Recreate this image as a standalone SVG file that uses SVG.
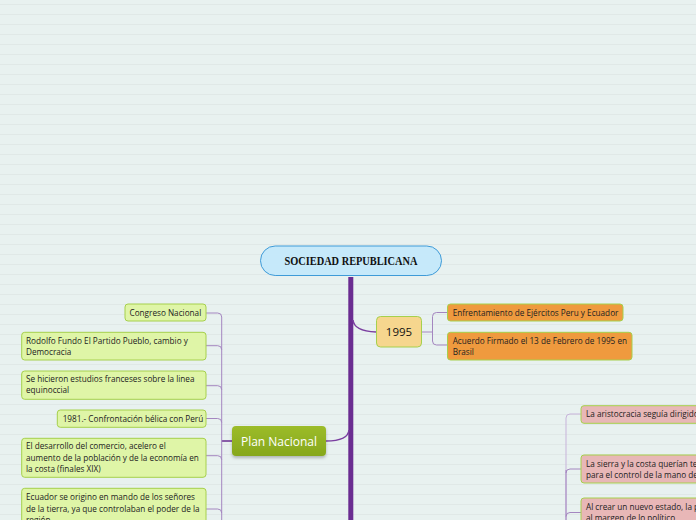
<svg xmlns="http://www.w3.org/2000/svg" width="696" height="520" viewBox="0 0 696 520">
<defs>
<pattern id="bgl" width="696" height="10" patternUnits="userSpaceOnUse">
<rect width="696" height="10" fill="#e8f1f0"/>
<line x1="0" y1="4.5" x2="696" y2="4.5" stroke="#e0e8e7" stroke-width="1"/>
</pattern>
<linearGradient id="pn" x1="0" y1="0" x2="0" y2="1">
<stop offset="0" stop-color="#9cbc2a"/>
<stop offset="1" stop-color="#86a71c"/>
</linearGradient>
<filter id="sh" x="-20%" y="-20%" width="140%" height="160%">
<feDropShadow dx="0" dy="2" stdDeviation="1.5" flood-color="#000" flood-opacity="0.25"/>
</filter>
</defs>
<style>
.t{font-family:"Open Sans","Noto Sans",sans-serif;font-size:8.2px;fill:#222}
.lg{fill:#dff5a7;stroke:#a6d04c;stroke-width:1}
.or{fill:#ef9a3e;stroke:#a6d04c;stroke-width:1}
.pk{fill:#e8b7b7;stroke:#a6d04c;stroke-width:1}
.thin{fill:none;stroke:#a486c0;stroke-width:1}
</style>
<rect width="696" height="520" fill="url(#bgl)"/>

<g id="connectors">
<rect x="348.3" y="277" width="5" height="245" fill="#6a2c91"/>
<path d="M353,320 Q354,331 376,332" fill="none" stroke="#7a3ea0" stroke-width="1.5"/>
<path d="M326,441 Q348,441 349,430" fill="none" stroke="#7a3ea0" stroke-width="1.5"/>
<path class="thin" d="M421.5,332 H432.5"/>
<path class="thin" d="M447.5,312.5 H436.5 Q432.5,312.5 432.5,316.5 V341 Q432.5,345 436.5,345 H447.5"/>
<path d="M232,441 H221.7" fill="none" stroke="#6a2c91" stroke-width="1.5"/>
<path class="thin" d="M206,313 H217.7 Q221.7,313 221.7,317 V522"/>
<path class="thin" d="M206,345.7 H217.7 Q221.7,345.7 221.7,349.7"/>
<path class="thin" d="M206,385.7 H217.7 Q221.7,385.7 221.7,389.7"/>
<path class="thin" d="M206,418.5 H217.7 Q221.7,418.5 221.7,422.5"/>
<path class="thin" d="M206,455.7 H217.7 Q221.7,455.7 221.7,459.7"/>
<path class="thin" d="M206,509 H217.7 Q221.7,509 221.7,513"/>
<path d="M581,414 H570 Q566,414 566,418 V522" fill="none" stroke="#c7b3da" stroke-width="1"/>
<path class="thin" d="M566,470 V522"/>
<path class="thin" d="M581,469 H570 Q566,469 566,473"/>
<path class="thin" d="M581,512.5 H570 Q566,512.5 566,516.5"/>
</g>

<g id="title">
<rect x="260.5" y="246" width="181" height="29.5" rx="14.7" fill="#c6e9fa" stroke="#3f9bd8" stroke-width="1"/>
<text x="351" y="264.5" text-anchor="middle" font-family="'Liberation Serif',serif" font-weight="bold" font-size="11.5" textLength="133" lengthAdjust="spacingAndGlyphs" fill="#111">SOCIEDAD REPUBLICANA</text>
</g>

<g id="n1995">
<rect x="376.5" y="316.5" width="45" height="30.5" rx="4" fill="#f6d68e" stroke="#a6d04c" stroke-width="1"/>
<text x="399" y="336" text-anchor="middle" font-family="'Open Sans','Noto Sans',sans-serif" font-size="11.5" fill="#111">1995</text>
</g>
<g id="enfrentamiento">
<rect class="or" x="447.5" y="304" width="175.5" height="17" rx="3"/>
<text class="t" x="452.7" y="315.5">Enfrentamiento de Ejércitos Peru y Ecuador</text>
</g>
<g id="acuerdo">
<rect class="or" x="447.5" y="332.3" width="184.5" height="27.7" rx="3"/>
<text class="t" x="452.7" y="343.5">Acuerdo Firmado el 13 de Febrero de 1995 en</text>
<text class="t" x="452.7" y="355.2">Brasil</text>
</g>

<g id="plan-nacional">
<rect x="232" y="426" width="94" height="30" rx="4" fill="url(#pn)" filter="url(#sh)"/>
<text x="279" y="445.5" text-anchor="middle" font-family="'Open Sans','Noto Sans',sans-serif" font-size="12" fill="#fff">Plan Nacional</text>
</g>

<g id="congreso">
<rect class="lg" x="125" y="304" width="81" height="17" rx="3"/>
<text class="t" x="129.5" y="315.7">Congreso Nacional</text>
</g>
<g id="rodolfo">
<rect class="lg" x="21.7" y="332.3" width="184.3" height="27.7" rx="3"/>
<text class="t" x="26" y="343.5">Rodolfo Fundo El Partido Pueblo, cambio y</text>
<text class="t" x="26" y="355.2">Democracia</text>
</g>
<g id="estudios">
<rect class="lg" x="21.7" y="371" width="184.3" height="28.3" rx="3"/>
<text class="t" x="26" y="381.7">Se hicieron estudios franceses sobre la linea</text>
<text class="t" x="26" y="393.2">equinoccial</text>
</g>
<g id="n1981">
<rect class="lg" x="57.3" y="410" width="148.7" height="17.3" rx="3"/>
<text class="t" x="62.7" y="421.9">1981.- Confrontación bélica con Perú</text>
</g>
<g id="desarrollo">
<rect class="lg" x="21.7" y="438.3" width="184.3" height="39" rx="3"/>
<text class="t" x="26" y="449.2">El desarrollo del comercio, acelero el</text>
<text class="t" x="26" y="460.7">aumento de la población y de la economía en</text>
<text class="t" x="26" y="472.2">la costa (finales XIX)</text>
</g>
<g id="ecuador">
<rect class="lg" x="21.7" y="488.3" width="184.3" height="45" rx="3"/>
<text class="t" x="26" y="500.2">Ecuador se origino en mando de los señores</text>
<text class="t" x="26" y="511.7">de la tierra, ya que controlaban el poder de la</text>
<text class="t" x="26" y="523.2">región</text>
</g>

<g id="aristocracia">
<rect class="pk" x="581" y="405.7" width="140" height="17.6" rx="3"/>
<text class="t" x="586" y="417.2">La aristocracia seguía dirigido</text>
</g>
<g id="sierra-costa">
<rect class="pk" x="581" y="455" width="140" height="28" rx="3"/>
<text class="t" x="586" y="466.7">La sierra y la costa querían te</text>
<text class="t" x="586" y="478.2">para el control de la mano de</text>
</g>
<g id="nuevo-estado">
<rect class="pk" x="581" y="498" width="140" height="40" rx="3"/>
<text class="t" x="586" y="509.7">Al crear un nuevo estado, la p</text>
<text class="t" x="586" y="521.2">al margen de lo político</text>
</g>
</svg>
